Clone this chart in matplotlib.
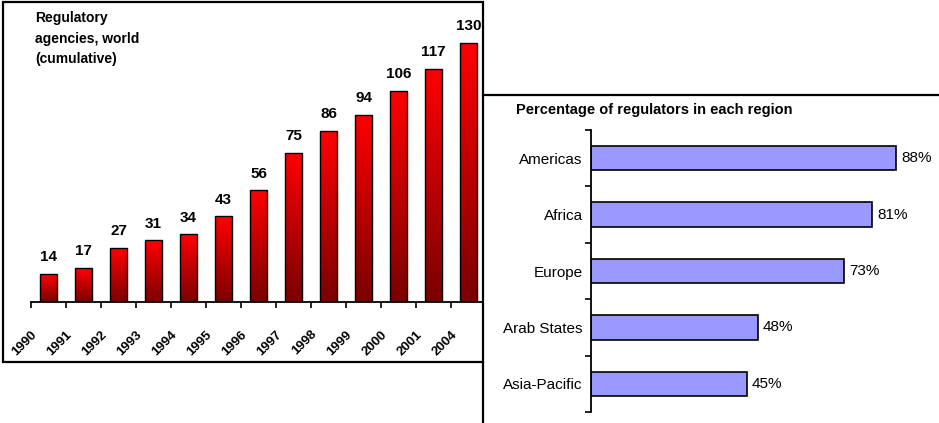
import numpy as np
import matplotlib
matplotlib.use("Agg")
from matplotlib import pyplot as plt
from matplotlib import transforms
from matplotlib.colors import LinearSegmentedColormap
from matplotlib.lines import Line2D
from matplotlib.patches import Rectangle

plt.rcParams['font.family'] = ['Liberation Sans', 'DejaVu Sans']

# left chart: cumulative number of regulatory agencies
years = ['1990', '1991', '1992', '1993', '1994', '1995', '1996',
         '1997', '1998', '1999', '2000', '2001', '2004']
agencies = [14, 17, 27, 31, 34, 43, 56, 75, 86, 94, 106, 117, 130]

# right chart: percentage of regulators per region
regions = ['Americas', 'Africa', 'Europe', 'Arab States', 'Asia-Pacific']
percent = [88, 81, 73, 48, 45]

W, H = 939, 423
fig = plt.figure(figsize=(W / 100, H / 100), dpi=100)


def px(x0, y0, x1, y1):
    # pixel box (top-left origin) -> figure fraction rect
    return [x0 / W, 1 - y1 / H, (x1 - x0) / W, (y1 - y0) / H]


# ---- left panel ----
ax1 = fig.add_axes(px(31, 10, 486, 302))
x = np.arange(len(years))
bars = ax1.bar(x, agencies, width=0.46, color='none', edgecolor='black',
               linewidth=1.0, zorder=3)
grad = LinearSegmentedColormap.from_list('redgrad', ['#7a0000', '#ff0000'])
g = np.linspace(0, 1, 256).reshape(-1, 1)
for b in bars:
    im = ax1.imshow(g, cmap=grad, origin='lower', aspect='auto',
                    extent=[b.get_x(), b.get_x() + b.get_width(), 0, b.get_height()],
                    zorder=2)
    im.set_clip_path(b)
ax1.set_xlim(-0.5, len(years) - 0.5)
ax1.set_ylim(0, 292 / 1.992)
ax1.bar_label(bars, padding=7, fontsize=11, fontweight='bold')

for s in ['top', 'right', 'left']:
    ax1.spines[s].set_visible(False)
ax1.spines['bottom'].set_linewidth(1.3)
ax1.spines['bottom'].set_bounds(-0.5, 12.4)
ax1.set_yticks([])
ax1.set_xticks(x - 0.5)
ax1.set_xticklabels(years, rotation=45, ha='right', va='center',
                    rotation_mode='anchor', fontsize=9.5, fontweight='bold',
                    family=['Liberation Sans Narrow', 'Liberation Sans'])
ax1.tick_params(axis='x', direction='out', length=4, width=1.2, pad=18)
shift = transforms.ScaledTranslation(4 / 100, 0, fig.dpi_scale_trans)
for lab in ax1.get_xticklabels():
    lab.set_transform(lab.get_transform() + shift)

fig.text(35 / W, 1 - 11 / H, 'Regulatory\nagencies, world\n(cumulative)',
         ha='left', va='top', fontsize=10, fontweight='bold', linespacing=1.6)

# ---- right panel ----
ax2 = fig.add_axes(px(591, 130, 938, 412))
yy = np.arange(len(regions))
hb = ax2.barh(yy, percent, height=0.43, color='#9999ff', edgecolor='black',
              linewidth=1.2)
ax2.set_ylim(len(regions) - 0.5, -0.5)
ax2.set_xlim(0, 100)
ax2.bar_label(hb, labels=[f'{v}%' for v in percent], padding=3.5, fontsize=11)
for s in ['top', 'right', 'bottom']:
    ax2.spines[s].set_visible(False)
ax2.spines['left'].set_linewidth(1.3)
ax2.set_xticks([])
ax2.set_yticks(yy)
ax2.set_yticklabels(regions, fontsize=11)
ax2.tick_params(axis='y', which='major', length=0, pad=6)
ax2.set_yticks(np.arange(len(regions) + 1) - 0.5, minor=True)
ax2.tick_params(axis='y', which='minor', direction='out', length=4, width=1.2)

fig.text(516 / W, 1 - 110 / H, 'Percentage of regulators in each region',
         ha='left', va='center', fontsize=10.5, fontweight='bold')

# ---- panel frames ----
fig.add_artist(Rectangle((3 / W, 1 - 362 / H), 480 / W, 360 / H,
                         transform=fig.transFigure, fill=False,
                         edgecolor='black', linewidth=1.6))
fig.add_artist(Line2D([483 / W, 483 / W], [1 - 362 / H, 0],
                      transform=fig.transFigure, color='black', linewidth=1.6))
fig.add_artist(Line2D([483 / W, 1], [1 - 95 / H, 1 - 95 / H],
                      transform=fig.transFigure, color='black', linewidth=1.6))

fig.savefig('out.png', dpi=100)
